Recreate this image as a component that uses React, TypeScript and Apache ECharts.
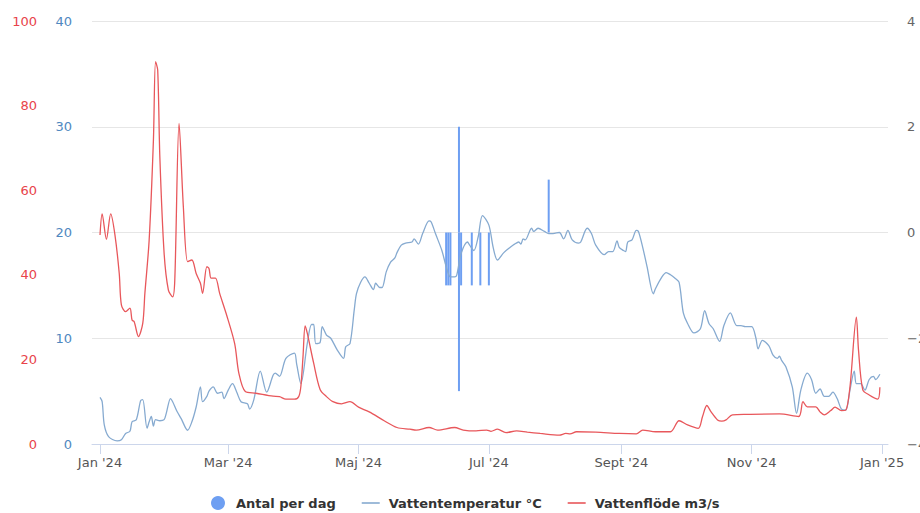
import React, { useEffect, useRef } from 'react';
import * as echarts from 'echarts';

// Day offsets from 2024-01-01
const tempDays = [0,1,2,4,8,10,12,14,15,17,19,20,22,23,24,25,26,28,30,31,33,34,36,38,41,43,45,47,48,50,51,53,55,57,58,60,62,64,66,69,70,72,75,78,81,82,84,87,91,92,94,97,99,100,101,103,104,106,108,111,114,115,117,119,120,122,124,126,128,129,131,132,134,136,138,139,141,143,146,147,149,151,154,155,157,160,162,164,166,167,169,172,173,175,177,179,182,184,186,189,192,194,196,197,198,199,202,203,205,208,210,212,215,217,219,221,224,225,228,230,232,236,238,240,242,243,245,246,247,249,251,252,254,256,259,260,263,265,267,269,271,273,275,278,281,283,285,287,290,292,295,298,300,302,305,307,308,310,313,315,317,318,319,321,324,326,328,331,333,335,337,339,341,343,345,347,349,351,353,354,356,358,360,362,363,365];
const tempValues = [4.4,4.0,1.8,0.7,0.3,0.4,1.0,1.2,2.1,2.3,4.1,4.2,1.5,2.1,2.6,1.7,2.3,2.2,2.3,2.9,4.3,4.0,3.1,2.4,1.3,2.1,3.5,5.4,4.0,4.5,5.0,5.4,4.8,4.9,4.3,5.1,5.7,4.9,4.0,3.8,3.3,4.2,6.9,4.9,6.5,6.7,6.4,8.1,8.6,7.6,5.7,9.5,11.3,11.3,9.5,9.6,11.1,10.3,10.0,8.9,8.1,9.2,9.5,12.7,14.2,15.3,15.8,15.2,14.6,15.2,14.8,14.8,16.3,17.2,17.6,18.1,18.8,19.0,19.1,19.4,18.9,19.9,21.1,21.0,19.9,18.3,16.8,15.8,15.8,16.0,18.0,19.1,18.8,18.3,19.6,21.6,20.7,18.6,17.4,18.1,18.6,18.9,19.1,18.9,19.4,19.3,20.4,20.1,20.4,20.1,19.9,19.9,20.0,19.4,20.2,19.3,19.0,19.1,20.4,19.9,18.8,17.9,18.2,18.2,19.2,18.6,18.3,18.2,19.1,19.3,20.2,20.1,18.6,16.8,14.2,14.7,15.8,16.2,16.0,15.7,15.3,12.4,11.4,10.5,10.9,12.6,11.4,10.9,9.7,11.2,12.4,11.2,11.2,11.1,11.1,10.0,9.0,9.8,9.3,8.4,8.1,8.3,7.9,7.3,5.4,2.9,5.1,6.7,6.1,4.8,5.2,4.5,4.5,4.9,4.3,3.3,3.2,5.1,6.9,5.7,5.7,5.1,6.1,6.4,6.1,6.6];

const flowDays = [0,1,3,5,7,9,10,12,14,15,16,18,20,21,23,25,26,27,28,30,32,34,35,37,39,41,43,45,47,48,50,51,52,54,56,59,63,65,68,73,81,84,87,91,93,94,95,96,97,100,103,106,109,113,117,121,126,133,139,145,148,154,158,166,170,176,181,183,186,190,195,200,206,215,218,220,223,232,243,251,254,260,267,271,275,280,282,284,286,289,291,293,296,303,318,327,329,331,335,337,339,342,344,347,349,351,354,355,357,360,364,365];
const flowValues = [49.4,54.4,48.4,54.4,49.4,40.3,32.9,31.3,32.1,29.3,28.9,25.4,28.5,35.6,48.2,71.9,90.4,88.4,67.9,45.1,36.4,34.8,38.8,75.8,56.1,43.1,43.5,40.3,38.0,35.6,41.9,41.5,39.2,39.2,35.6,30.9,23.8,16.7,12.4,12.0,11.3,11.2,10.6,10.6,11.2,13.6,20.6,27.9,26.2,19.1,12.9,11.2,10.0,9.5,10.0,8.7,7.6,5.5,3.9,3.5,3.3,3.9,3.3,3.9,3.3,3.1,3.3,3.0,3.5,2.7,3.1,2.8,2.5,2.1,2.5,2.4,2.9,2.8,2.5,2.4,3.3,2.9,2.9,5.5,4.5,3.7,6.5,9.1,7.6,5.7,5.4,5.7,6.9,7.0,7.1,6.5,10.0,8.8,8.8,7.6,6.9,7.9,8.7,7.9,8.0,13.5,30.0,22.2,12.8,11.6,10.6,13.4];

const countDates = ['2024-06-11','2024-06-12','2024-06-13','2024-06-17','2024-06-18','2024-06-23','2024-06-27','2024-07-01','2024-07-29'];
const countValues = [-1,-1,-1,2,-1,-1,-1,-1,1];
const countExtraDates = ['2024-06-17'];
const countExtraValues = [-3];

const tickDates = ['2024-01-01','2024-03-01','2024-05-01','2024-07-01','2024-09-01','2024-11-01','2025-01-01'];
const monthNames = ['Jan','Feb','Mar','Apr','Maj','Jun','Jul','Aug','Sept','Okt','Nov','Dec'];

const DAY = 86400000;
const ts = (s: string) => {
  const [y, m, d] = s.split('-').map(Number);
  return new Date(y, m - 1, d).getTime();
};
const dayTs = (d: number) => new Date(2024, 0, 1 + d).getTime();

const LINE_ICON = 'path://M0,0H18V1.6H0Z';

export default function App() {
  const ref = useRef<HTMLDivElement>(null);
  useEffect(() => {
    if (!ref.current) return;
    const chart = echarts.init(ref.current, undefined, { renderer: 'svg' });
    const tickTimes = tickDates.map(ts);
    const font = 'DejaVu Sans';
    const option: any = {
      animation: false,
      backgroundColor: '#ffffff',
      textStyle: { fontFamily: font },
      grid: { left: 92, right: 32, top: 21, bottom: 69, containLabel: false, outerBoundsMode: 'none' },
      legend: {
        left: 211,
        top: 496,
        padding: 0,
        itemWidth: 18,
        itemHeight: 14,
        itemGap: 26,
        symbolKeepAspect: true,
        textStyle: { fontFamily: font, fontSize: 13, fontWeight: 'bold', color: '#333333', padding: [0, 0, 0, 4] },
        data: [
          { name: 'Antal per dag', icon: 'circle' },
          { name: 'Vattentemperatur °C', icon: LINE_ICON },
          { name: 'Vattenflöde m3/s', icon: LINE_ICON },
        ],
      },
      xAxis: {
        type: 'value',
        min: ts('2024-01-01') - 3.75 * DAY,
        max: ts('2025-01-01') + 2.8 * DAY,
        axisLine: { lineStyle: { color: '#ccd6eb', width: 1 } },
        axisTick: { show: true, length: 10, customValues: tickTimes, lineStyle: { color: '#ccd6eb' } },
        axisLabel: {
          customValues: tickTimes,
          color: '#555555',
          fontFamily: font,
          fontSize: 13,
          margin: 12,
          formatter: (v: number) => {
            const d = new Date(v);
            return monthNames[d.getMonth()] + " '" + String(d.getFullYear()).slice(2);
          },
        },
        splitLine: { show: false },
      },
      yAxis: [
        {
          type: 'value', min: 0, max: 40, interval: 10, position: 'left',
          axisLine: { show: false }, axisTick: { show: false },
          axisLabel: { color: '#4f88c0', fontFamily: font, fontSize: 13, margin: 20 },
          splitLine: { lineStyle: { color: '#e6e6e6' } },
        },
        {
          type: 'value', min: 0, max: 100, interval: 20, position: 'left', offset: 47,
          axisLine: { show: false }, axisTick: { show: false },
          axisLabel: { color: '#e8434a', fontFamily: font, fontSize: 13, margin: 8 },
          splitLine: { show: false },
        },
        {
          type: 'value', min: -4, max: 4, interval: 2, position: 'right',
          axisLine: { show: false }, axisTick: { show: false },
          axisLabel: {
            color: '#666666', fontFamily: font, fontSize: 13, margin: 19,
            formatter: (v: number) => (v < 0 ? '\u2212' + Math.abs(v) : String(v)),
          },
          splitLine: { show: false },
        },
      ],
      series: [
        {
          name: 'Antal per dag', type: 'bar', yAxisIndex: 2, stack: 'antal', barWidth: 2,
          itemStyle: { color: '#6e9ff2' },
          data: countDates.map((d, i) => [ts(d), countValues[i]]),
        },
        {
          name: 'Antal per dag', type: 'bar', yAxisIndex: 2, stack: 'antal', barWidth: 2,
          itemStyle: { color: '#6e9ff2' },
          data: countExtraDates.map((d, i) => [ts(d), countExtraValues[i]]),
        },
        {
          name: 'Vattentemperatur °C', type: 'line', yAxisIndex: 0, smooth: 0.3, symbol: 'none',
          lineStyle: { color: '#86aad0', width: 1.3 }, itemStyle: { color: '#86aad0' },
          data: tempDays.map((d, i) => [dayTs(d), tempValues[i]]),
        },
        {
          name: 'Vattenflöde m3/s', type: 'line', yAxisIndex: 1, smooth: 0.3, symbol: 'none',
          lineStyle: { color: '#e8575b', width: 1.3 }, itemStyle: { color: '#e8575b' },
          data: flowDays.map((d, i) => [dayTs(d), flowValues[i]]),
        },
      ],
    };
    chart.setOption(option);
    return () => chart.dispose();
  }, []);
  return (
    <div
      ref={ref}
      style={{ position: 'absolute', left: 0, top: 0, width: 920, height: 513 }}
    />
  );
}
